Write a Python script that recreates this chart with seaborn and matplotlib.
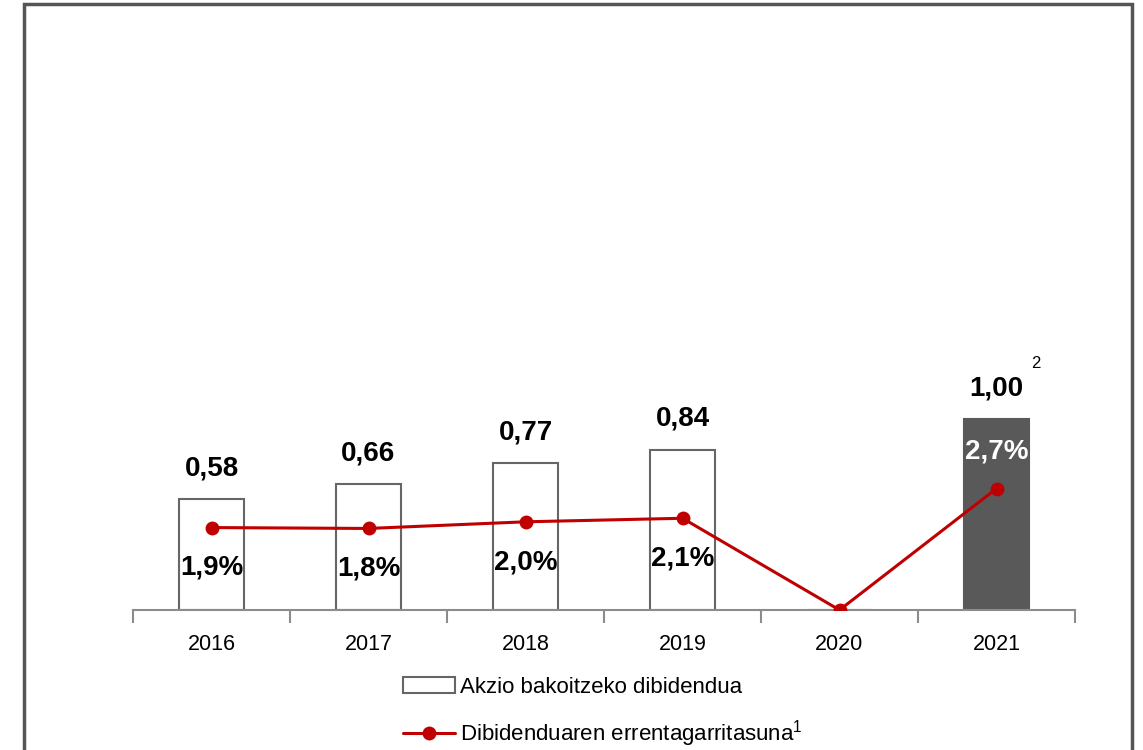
import numpy as np
import pandas as pd
import matplotlib
matplotlib.use("Agg")
import matplotlib.pyplot as plt
from matplotlib import font_manager
from matplotlib.patches import Patch, Rectangle
from matplotlib.lines import Line2D
import seaborn as sns

years = ["2016", "2017", "2018", "2019", "2020", "2021"]
dividend = [0.58, 0.66, 0.77, 0.84, 0.0, 1.00]
dividend_labels = ["0,58", "0,66", "0,77", "0,84", "", "1,00"]
yield_pct = [1.86, 1.84, 1.99, 2.07, 0.0, 2.74]
yield_labels = ["1,9%", "1,8%", "2,0%", "2,1%", "", "2,7%"]
legend_labels = ["Akzio bakoitzeko dibidendua", "Dibidenduaren errentagarritasuna$^{1}$"]

sns.set_theme(style="white")
names = {f.name for f in font_manager.fontManager.ttflist}
fam = "Liberation Sans Narrow" if "Liberation Sans Narrow" in names else "Liberation Sans"
plt.rcParams["font.family"] = [fam, "DejaVu Sans"]
plt.rcParams["mathtext.default"] = "regular"
plt.rcParams["mathtext.fontset"] = "custom"
plt.rcParams["mathtext.rm"] = fam
plt.rcParams["text.color"] = "black"

W, H = 1143, 750
fig = plt.figure(figsize=(W / 100, H / 100), dpi=100)
ax = fig.add_axes([133 / W, 1 - 610 / H, (1075 - 133) / W, 554 / H])

df = pd.DataFrame({"year": years, "div": dividend})
face = ["white"] * 5 + ["#595959"]
edge = ["#666666"] * 5 + ["#595959"]
sns.barplot(data=df, x="year", y="div", hue="year", palette=face, legend=False,
            width=0.42, ax=ax, saturation=1)
for p, ec in zip(ax.patches, edge):
    p.set_edgecolor(ec)
    p.set_linewidth(1.5)
ax.set_xlim(-0.5, 5.5)
ax.set_ylim(0, 2.9)

for i, (v, lab) in enumerate(zip(dividend, dividend_labels)):
    if lab:
        ax.annotate(lab, (i, v), xytext=(0, 22), textcoords="offset points",
                    ha="center", va="center", fontsize=20, fontweight="bold", color="black")
ax.annotate("2", (5, 1.0), xytext=(28, 40), textcoords="offset points",
            ha="center", va="center", fontsize=12, color="black")

ax2 = ax.twinx()
sns.lineplot(x=np.arange(len(years)), y=yield_pct, ax=ax2, color="#C00000",
             linewidth=2.2, marker="o", markersize=10, markeredgewidth=0)
ax2.set_ylim(0, 12.5)
for i, (v, lab) in enumerate(zip(yield_pct, yield_labels)):
    if lab:
        off = 27 if i == 5 else -29
        col = "white" if i == 5 else "black"
        ax2.annotate(lab, (i, v), xytext=(0, off), textcoords="offset points",
                     ha="center", va="center", fontsize=20, fontweight="bold", color=col)

for a in (ax, ax2):
    for s in ["top", "left", "right"]:
        a.spines[s].set_visible(False)
    a.set_ylabel("")
    a.set_yticks([])
ax2.spines["bottom"].set_visible(False)
ax2.set_xlabel("")
ax.spines["bottom"].set_color("#8c8c8c")
ax.spines["bottom"].set_linewidth(1.5)
ax.set_xlim(-0.5, 5.5)
ax.set_xlabel("")
ax.set_xticks(range(6))
ax.set_xticklabels(years, fontsize=15.5, color="black")
ax.set_xticks(np.arange(-0.5, 6, 1), minor=True)
ax.tick_params(axis="x", which="major", bottom=False, length=0, pad=17, labelcolor="black")
ax.tick_params(axis="x", which="minor", bottom=True, length=9, width=1.5,
               color="#8c8c8c", direction="out")

handles = [Patch(facecolor="white", edgecolor="#666666", linewidth=1.5),
           Line2D([0], [0], color="#C00000", linewidth=2.2, marker="o", markersize=10,
                  markeredgewidth=0)]
leg = fig.legend(handles, legend_labels, loc="upper left", bbox_to_anchor=(403 / W, 1 - 677 / H),
                 frameon=False, fontsize=16, handlelength=2.35, handletextpad=0.2,
                 labelspacing=0.9, borderpad=0, borderaxespad=0)
for t in leg.get_texts():
    t.set_color("black")

fig.patches.append(Rectangle((24 / W, -0.05), (1132 - 24) / W, 1.05 - 4 / H,
                             transform=fig.transFigure, fill=False, edgecolor="#555555",
                             linewidth=2.5, clip_on=False))

fig.savefig("out.png", dpi=100)
